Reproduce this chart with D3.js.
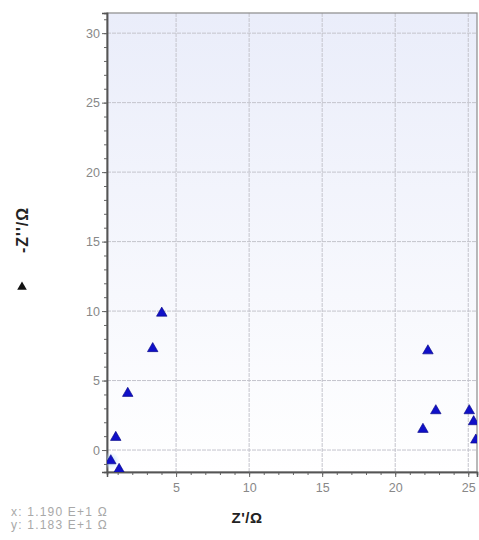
<!DOCTYPE html>
<html><head><meta charset="utf-8">
<script src="https://cdnjs.cloudflare.com/ajax/libs/d3/7.8.5/d3.min.js"></script>
<style>
html,body{margin:0;padding:0;background:#fff;}
svg{display:block;font-family:"Liberation Sans",Arial,sans-serif;}
</style></head><body>
<script>
const zReal = [0.53, 1.10, 0.87, 1.69, 3.40, 4.02, 21.90, 22.24, 22.78, 25.07, 25.37, 25.52];
const zImag = [-0.77, -1.39, 0.91, 4.08, 7.30, 9.85, 1.49, 7.14, 2.83, 2.83, 2.04, 0.72];
const xTicks = [5, 10, 15, 20, 25];
const yTicks = [0, 5, 10, 15, 20, 25, 30];
const cursorText = ["x: 1.190 E+1 \u03A9", "y: 1.183 E+1 \u03A9"];

const W = 479, H = 540;
const m = {l:107, t:13, r:477, b:472};
const x = d3.scaleLinear().domain([0.27, 25.6]).range([m.l, m.r]);
const y = d3.scaleLinear().domain([-1.58, 31.45]).range([m.b, m.t]);

const svg = d3.select("body").append("svg").attr("width", W).attr("height", H);
const defs = svg.append("defs");
const grad = defs.append("linearGradient").attr("id","bg").attr("x1",0).attr("y1",0).attr("x2",0).attr("y2",1);
grad.append("stop").attr("offset","0%").attr("stop-color","#eaedfa");
grad.append("stop").attr("offset","100%").attr("stop-color","#ffffff");
defs.append("clipPath").attr("id","clip").append("rect")
  .attr("x", m.l).attr("y", m.t).attr("width", m.r-m.l).attr("height", m.b-m.t);
const glow = defs.append("radialGradient").attr("id","glow");
glow.append("stop").attr("offset","0%").attr("stop-color","#9fd0ff").attr("stop-opacity",0.9);
glow.append("stop").attr("offset","100%").attr("stop-color","#cfe6ff").attr("stop-opacity",0);

svg.append("rect").attr("x", m.l).attr("y", m.t).attr("width", m.r-m.l).attr("height", m.b-m.t)
  .attr("fill","url(#bg)");

// grid
const g = svg.append("g").attr("clip-path","url(#clip)");
g.selectAll(".gx").data(xTicks).join("line")
  .attr("x1", d=>x(d)).attr("x2", d=>x(d)).attr("y1", m.t).attr("y2", m.b)
  .attr("stroke","#c4c4cc").attr("stroke-width",1).attr("stroke-dasharray","4,1");
g.selectAll(".gy").data(yTicks).join("line")
  .attr("y1", d=>y(d)).attr("y2", d=>y(d)).attr("x1", m.l).attr("x2", m.r)
  .attr("stroke","#c4c4cc").attr("stroke-width",1).attr("stroke-dasharray","4,1");

// frame
svg.append("rect").attr("x", m.l).attr("y", m.t).attr("width", m.r-m.l).attr("height", m.b-m.t)
  .attr("fill","none").attr("stroke","#8a8a8a").attr("stroke-width",1.2);

// axes
const minorX = d3.range(1, 26);
const minorY = d3.range(-1, 32);
const xAxis = d3.axisBottom(x).tickValues(xTicks).tickSize(5).tickPadding(6);
const xMinor = d3.axisBottom(x).tickValues(minorX).tickSize(3).tickFormat("");
const yAxis = d3.axisLeft(y).tickValues(yTicks).tickSize(5).tickPadding(2);
const yMinor = d3.axisLeft(y).tickValues(minorY).tickSize(3).tickFormat("");

function style(sel){
  sel.select(".domain").attr("stroke","#555").attr("stroke-width",1.5);
  sel.selectAll(".tick line").attr("stroke","#666");
  sel.selectAll(".tick text").attr("fill","#888").attr("font-size","12.5px");
}
svg.append("g").attr("transform",`translate(0,${m.b})`).call(xMinor).call(style);
svg.append("g").attr("transform",`translate(0,${m.b})`).call(xAxis).call(style);
svg.append("g").attr("transform",`translate(${m.l},0)`).call(yMinor).call(style);
svg.append("g").attr("transform",`translate(${m.l},0)`).call(yAxis).call(style);

// data
const pts = zReal.map((v,i)=>({x:v, y:zImag[i]}));
const pg = svg.append("g").attr("clip-path","url(#clip)");
pg.append("circle").attr("cx", x(zReal[0])).attr("cy", y(zImag[0])).attr("r", 9).attr("fill","url(#glow)");
const tri = d3.symbol().type(d3.symbolTriangle).size(48);
pg.selectAll("path.pt").data(pts).join("path").attr("class","pt")
  .attr("d", tri)
  .attr("transform", d=>`translate(${x(d.x)},${y(d.y)})`)
  .attr("fill","#1010c8").attr("stroke","#000080").attr("stroke-width",0.6);

// labels
svg.append("text").attr("transform","translate(28,230) rotate(-90)")
  .attr("text-anchor","middle").attr("font-weight","bold").attr("font-size","16px")
  .attr("letter-spacing","1px").attr("fill","#222")
  .text("-Z''/\u03A9");
svg.append("path").attr("d", d3.symbol().type(d3.symbolTriangle).size(40))
  .attr("transform","translate(22,287)").attr("fill","#111");
svg.append("text").attr("x", 247).attr("y", 523).attr("text-anchor","middle")
  .attr("font-weight","bold").attr("font-size","15px").attr("letter-spacing","0.5px")
  .attr("fill","#222").text("Z'/\u03A9");
svg.selectAll("text.cur").data(cursorText).join("text").attr("class","cur")
  .attr("x", 11).attr("y", (d,i)=>516 + i*13).attr("font-size","12px")
  .attr("letter-spacing","1.2px").attr("fill","#a8a8a8").text(d=>d);
</script>
</body></html>
